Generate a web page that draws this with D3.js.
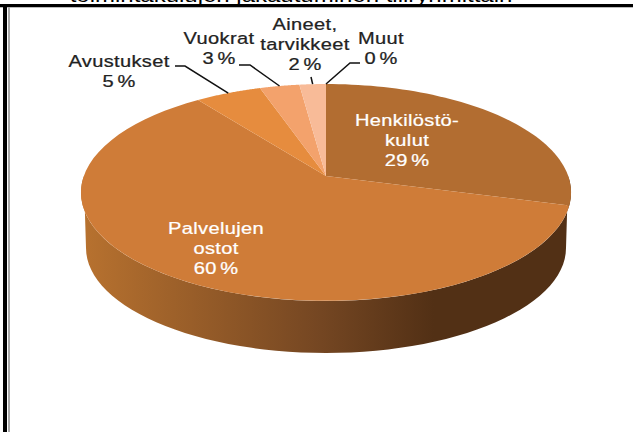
<!DOCTYPE html>
<html><head><meta charset="utf-8">
<script src="https://cdnjs.cloudflare.com/ajax/libs/d3/7.8.5/d3.min.js"></script>
<style>html,body{margin:0;padding:0;background:#fff}svg{display:block}text{font-family:"Liberation Sans",Arial,sans-serif;font-size:17px;letter-spacing:.3px;word-spacing:-2px;stroke-width:.25px}</style>
</head><body><svg id="c" width="633" height="432"></svg>
<script>
const categories=["Henkilöstökulut","Palvelujen ostot","Avustukset","Vuokrat","Aineet, tarvikkeet","Muut"];
const values=[29,60,5,3,2,0];
const colors=["#b26d31","#cf7c38","#e68c3e","#f3a26c","#f8bb98","#fbd3bc"];
const sideStops=[[0,"#b8722f"],[0.49,"#744622"],[0.72,"#523015"],[1,"#523015"]];
const titleText="toimintakulujen jakautuminen tiliryhmittäin";
const insideLabels=[
 {lines:["Henkilöstö-","kulut","29 %"],x:407,y:126,fill:"#fff"},
 {lines:["Palvelujen","ostot","60 %"],x:216,y:234,fill:"#fff"}];
const outsideLabels=[
 {lines:["Avustukset","5 %"],x:119,y:67,fill:"#222",idx:2,elbow:[[175,66],[185,66]]},
 {lines:["Vuokrat","3 %"],x:219,y:44,fill:"#222",idx:3,elbow:[[239,65],[250,65]]},
 {lines:["Aineet,","tarvikkeet","2 %"],x:305,y:30,fill:"#222",idx:4,elbow:[[311,77]]},
 {lines:["Muut","0 %"],x:381,y:44,fill:"#222",idx:5,elbow:[[360,63],[350,63]]}];

const svg=d3.select("#c");
// perspective projection of the unit circle onto the page
const cx=326, apexY=176, d=242.2, a=79.2, c=-0.152, stretch=1.18;
const px=t=>{const u=Math.sin(t),v=-Math.cos(t),w=1+c*v;return [cx+d*u/w,(a*v+apexY)/w];};
const rim=t=>[cx+240*Math.sin(t),248-105*Math.cos(t)];
const line=d3.line();
const sample=(t0,t1,f)=>d3.range(0,61).map(i=>f(t0+(t1-t0)*i/60));

const pie=d3.pie().sort(null)(values);
const defs=svg.append("defs");
const g=defs.append("linearGradient").attr("id","side").attr("gradientUnits","userSpaceOnUse")
 .attr("x1",81).attr("x2",571).attr("y1",0).attr("y2",0);
sideStops.forEach(s=>g.append("stop").attr("offset",s[0]).attr("stop-color",s[1]));

// frame and clipped title
svg.append("text").attr("transform","translate(291,2) scale(1.2,1)").attr("text-anchor","middle")
 .attr("fill","#000").style("font-size","20px").style("letter-spacing","0").style("word-spacing","0").text(titleText);
svg.append("rect").attr("x",0).attr("y",4).attr("width",633).attr("height",3).attr("fill","#000");
svg.append("rect").attr("x",0).attr("y",7).attr("width",633).attr("height",1).attr("fill","#bbb");
svg.append("rect").attr("x",3).attr("y",4).attr("width",4).attr("height",428).attr("fill","#000");
svg.append("rect").attr("x",8).attr("y",7).attr("width",2).attr("height",425).attr("fill","#aaa");

// side wall: front half of the top rim joined to the lower rim
const wall=sample(Math.PI/2,3*Math.PI/2,px).concat(sample(3*Math.PI/2,Math.PI/2,rim));
svg.append("path").attr("d",line(wall)+"Z").attr("fill","url(#side)");

// top face
svg.append("g").selectAll("path").data(pie).join("path")
 .attr("d",s=>{const pts=[[cx,apexY]].concat(sample(s.startAngle,s.endAngle,px));return line(pts)+"Z";})
 .attr("fill",(s,i)=>colors[i]);

// leader lines
svg.append("g").selectAll("path").data(outsideLabels).join("path")
 .attr("d",l=>{const s=pie[l.idx],m=(s.startAngle+s.endAngle)/2;return line(l.elbow.concat([px(m)]));})
 .attr("fill","none").attr("stroke","#111").attr("stroke-width",1.5);

// labels
svg.append("g").selectAll("text").data(insideLabels.concat(outsideLabels)).join("text")
 .attr("text-anchor","middle").attr("fill",l=>l.fill).attr("stroke",l=>l.fill)
 .attr("transform",l=>`translate(${l.x},0) scale(${stretch},1)`)
 .each(function(l){d3.select(this).selectAll("tspan").data(l.lines).join("tspan")
   .attr("x",0).attr("y",(t,i)=>l.y+i*20).text(t=>t);});
</script></body></html>
